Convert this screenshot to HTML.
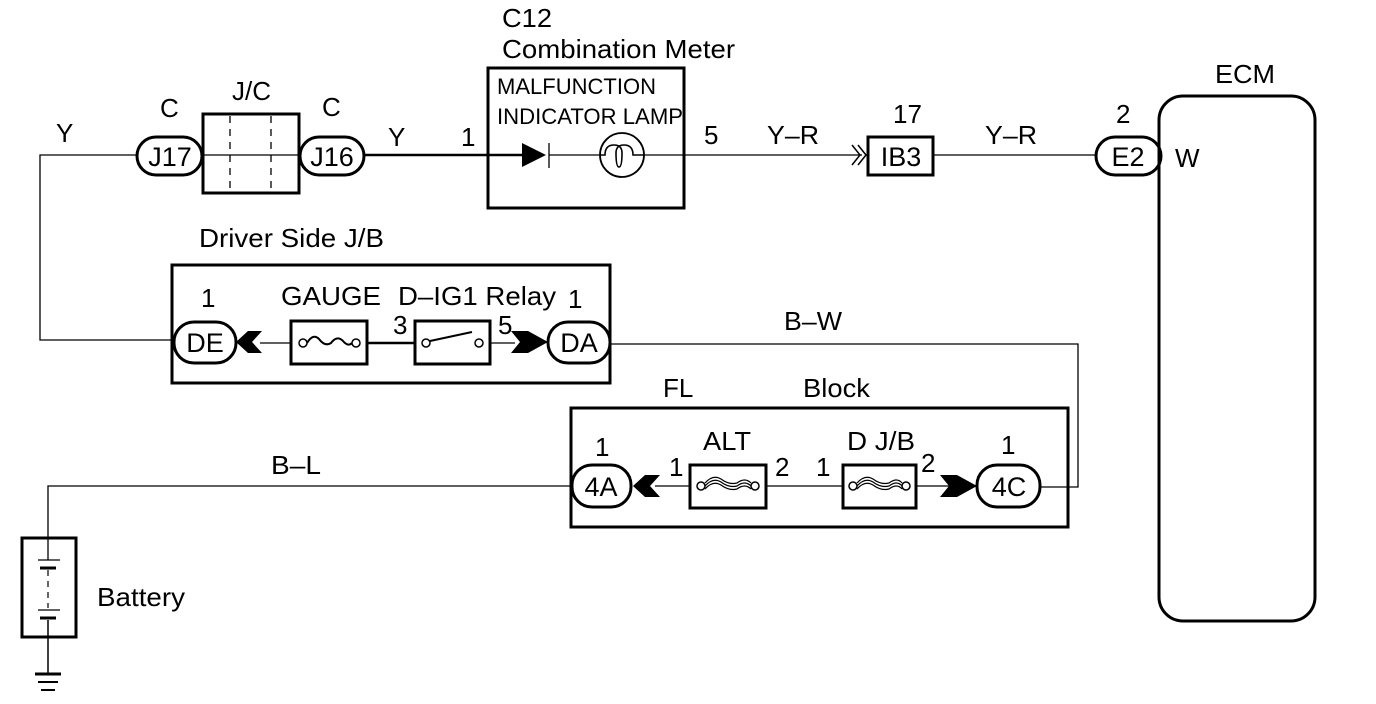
<!DOCTYPE html>
<html><head><meta charset="utf-8"><style>
html,body{margin:0;padding:0;background:#fff;}
svg{display:block;}
text{font-family:"Liberation Sans",Arial,sans-serif;fill:#000;}
</style></head><body>
<svg width="1376" height="704" viewBox="0 0 1376 704" xmlns="http://www.w3.org/2000/svg">
<g fill="none" stroke="#000">
<polyline points="137,155 40,155 40,340 174,340" stroke-width="1.3"/>
<rect x="137" y="137" width="65" height="38" rx="19" stroke-width="3"/>
<rect x="203" y="114" width="96" height="79" stroke-width="3"/>
<line x1="203" y1="155" x2="299" y2="155" stroke-width="1.3"/>
<line x1="230" y1="116" x2="230" y2="191" stroke-width="1.3" stroke-dasharray="7,6"/>
<line x1="271" y1="116" x2="271" y2="191" stroke-width="1.3" stroke-dasharray="7,6"/>
<rect x="300" y="137" width="64" height="38" rx="19" stroke-width="3"/>
<line x1="364" y1="155" x2="525" y2="155" stroke-width="2.5"/>
<rect x="488" y="68" width="196" height="140" stroke-width="3"/>
<line x1="549" y1="143" x2="549" y2="168" stroke-width="1.3"/>
<line x1="549" y1="155" x2="600" y2="155" stroke-width="1.3"/>
<circle cx="622" cy="155" r="22" stroke-width="1.8"/>
<path d="M600,155 h5 q0,-10 9,-10 q8,0 8,8 q0,14 -3,14 q-3,0 -3,-14 q0,-8 8,-8 q9,0 9,10 h11" stroke-width="1.6"/>
<line x1="644" y1="155" x2="862" y2="155" stroke-width="1.3"/>
<polyline points="852,145 860,155 852,165" stroke-width="1.5"/>
<polyline points="858,145 866,155 858,165" stroke-width="1.5"/>
<rect x="868" y="137" width="65" height="38" stroke-width="3"/>
<line x1="933" y1="155" x2="1096" y2="155" stroke-width="1.3"/>
<rect x="1096" y="137" width="65" height="38" rx="19" stroke-width="3"/>
<rect x="1159" y="96" width="156" height="525" rx="24" stroke-width="3"/>
<rect x="172" y="265" width="438" height="118" stroke-width="3"/>
<rect x="174" y="322" width="62" height="41" rx="20" stroke-width="3"/>
<line x1="260" y1="343" x2="290" y2="343" stroke-width="1.3"/>
<rect x="291" y="321" width="76" height="43" stroke-width="3"/>
<circle cx="303" cy="343" r="4" stroke-width="1.5"/>
<circle cx="356" cy="343" r="4" stroke-width="1.5"/>
<path d="M307,343 q6,-10 12,-4 q6,8 12,4 q6,-8 12,-2 q5,6 9,2" stroke-width="2"/>
<line x1="367" y1="343" x2="415" y2="343" stroke-width="2.5"/>
<rect x="415" y="321" width="75" height="43" stroke-width="3"/>
<circle cx="426" cy="343" r="4" stroke-width="1.5"/>
<circle cx="479" cy="343" r="4" stroke-width="1.5"/>
<line x1="430" y1="341" x2="472" y2="332" stroke-width="2"/>
<line x1="490" y1="343" x2="515" y2="343" stroke-width="1.3"/>
<rect x="548" y="322" width="62" height="41" rx="20" stroke-width="3"/>
<polyline points="610,344 1078,344 1078,487 1040,487" stroke-width="1.3"/>
<rect x="571" y="408" width="497" height="119" stroke-width="3"/>
<rect x="572" y="465" width="59" height="42" rx="20" stroke-width="3"/>
<line x1="655" y1="486" x2="977" y2="486" stroke-width="1.3"/>
<rect x="690" y="465" width="76" height="43" fill="#fff" stroke-width="3"/>
<circle cx="701" cy="486" r="4" fill="#fff" stroke-width="1.5"/>
<circle cx="755" cy="486" r="4" fill="#fff" stroke-width="1.5"/>
<path d="M705,486 q8,-9 16,-4 q8,6 16,4 q8,-6 14,0 M705,483 q8,-9 16,-4 q8,6 16,4 q8,-6 14,0 M705,489 q8,-9 16,-4 q8,6 16,4 q8,-6 14,0" stroke-width="1.2"/>
<rect x="843" y="465" width="73" height="43" fill="#fff" stroke-width="3"/>
<circle cx="853" cy="486" r="4" fill="#fff" stroke-width="1.5"/>
<circle cx="906" cy="486" r="4" fill="#fff" stroke-width="1.5"/>
<path d="M857,486 q8,-9 16,-4 q8,6 16,4 q8,-6 13,0 M857,483 q8,-9 16,-4 q8,6 16,4 q8,-6 13,0 M857,489 q8,-9 16,-4 q8,6 16,4 q8,-6 13,0" stroke-width="1.2"/>
<rect x="977" y="465" width="63" height="42" rx="20" stroke-width="3"/>
<polyline points="572,486 48,486 48,538" stroke-width="1.3"/>
<rect x="22" y="538" width="54" height="99" stroke-width="3"/>
<line x1="48" y1="538" x2="48" y2="560" stroke-width="1.3"/>
<line x1="38" y1="560" x2="60" y2="560" stroke-width="1.3"/>
<line x1="40" y1="568" x2="56" y2="568" stroke-width="3"/>
<line x1="48" y1="570" x2="48" y2="608" stroke-width="1.2" stroke-dasharray="6,5"/>
<line x1="38" y1="610" x2="60" y2="610" stroke-width="1.3"/>
<line x1="40" y1="618" x2="56" y2="618" stroke-width="3"/>
<line x1="48" y1="620" x2="48" y2="674" stroke-width="1.5"/>
<line x1="35" y1="674" x2="61" y2="674" stroke-width="3"/>
<line x1="38" y1="682" x2="58" y2="682" stroke-width="2"/>
<line x1="41" y1="690" x2="55" y2="690" stroke-width="2"/>
</g>
<g fill="#000" stroke="none">
<polygon points="522,143 546,155 522,167"/>
<polygon points="236,342 248,331 262,331 252,342 262,353 248,353"/>
<polygon points="511,331 528,331 548,342 528,353 511,353 520,342"/>
<polygon points="633,486 645,475 660,475 650,486 660,497 645,497"/>
<polygon points="940,475 957,475 977,486 957,497 940,497 949,486"/>
</g>
<g font-size="26" lengthAdjust="spacingAndGlyphs">
<text x="56" y="142">Y</text>
<text x="160" y="117">C</text>
<text x="232" y="100">J/C</text>
<text x="322" y="116">C</text>
<text x="388" y="146">Y</text>
<text x="461" y="146">1</text>
<text x="502" y="27" textLength="50" lengthAdjust="spacingAndGlyphs">C12</text>
<text x="502" y="58" textLength="233" lengthAdjust="spacingAndGlyphs">Combination Meter</text>
<text x="497" y="94" font-size="22" textLength="159" lengthAdjust="spacingAndGlyphs">MALFUNCTION</text>
<text x="497" y="124" font-size="22" textLength="186" lengthAdjust="spacingAndGlyphs">INDICATOR LAMP</text>
<text x="704" y="144">5</text>
<text x="767" y="144" textLength="52" lengthAdjust="spacingAndGlyphs">Y–R</text>
<text x="893" y="123">17</text>
<text x="985" y="144" textLength="52" lengthAdjust="spacingAndGlyphs">Y–R</text>
<text x="1116" y="123">2</text>
<text x="1175" y="167">W</text>
<text x="1215" y="83" textLength="60" lengthAdjust="spacingAndGlyphs">ECM</text>
<text x="199" y="247" textLength="185" lengthAdjust="spacingAndGlyphs">Driver Side J/B</text>
<text x="201" y="307">1</text>
<text x="281" y="305" textLength="100" lengthAdjust="spacingAndGlyphs">GAUGE</text>
<text x="398" y="305" textLength="158" lengthAdjust="spacingAndGlyphs">D–IG1 Relay</text>
<text x="568" y="308">1</text>
<text x="393" y="334">3</text>
<text x="498" y="334">5</text>
<text x="784" y="330" textLength="58" lengthAdjust="spacingAndGlyphs">B–W</text>
<text x="663" y="397">FL</text>
<text x="803" y="397" textLength="67" lengthAdjust="spacingAndGlyphs">Block</text>
<text x="595" y="456">1</text>
<text x="703" y="450" textLength="48" lengthAdjust="spacingAndGlyphs">ALT</text>
<text x="847" y="450" textLength="68" lengthAdjust="spacingAndGlyphs">D J/B</text>
<text x="1001" y="454">1</text>
<text x="669" y="476">1</text>
<text x="775" y="476">2</text>
<text x="816" y="476">1</text>
<text x="921" y="472">2</text>
<text x="271" y="474" textLength="50" lengthAdjust="spacingAndGlyphs">B–L</text>
<text x="97" y="606" textLength="88" lengthAdjust="spacingAndGlyphs">Battery</text>
</g>
<g font-size="27" text-anchor="middle">
<text x="170" y="166">J17</text>
<text x="332" y="166">J16</text>
<text x="901" y="166">IB3</text>
<text x="1128" y="166">E2</text>
<text x="205" y="352">DE</text>
<text x="579" y="352">DA</text>
<text x="601" y="496">4A</text>
<text x="1009" y="496">4C</text>
</g>
</svg>
</body></html>
